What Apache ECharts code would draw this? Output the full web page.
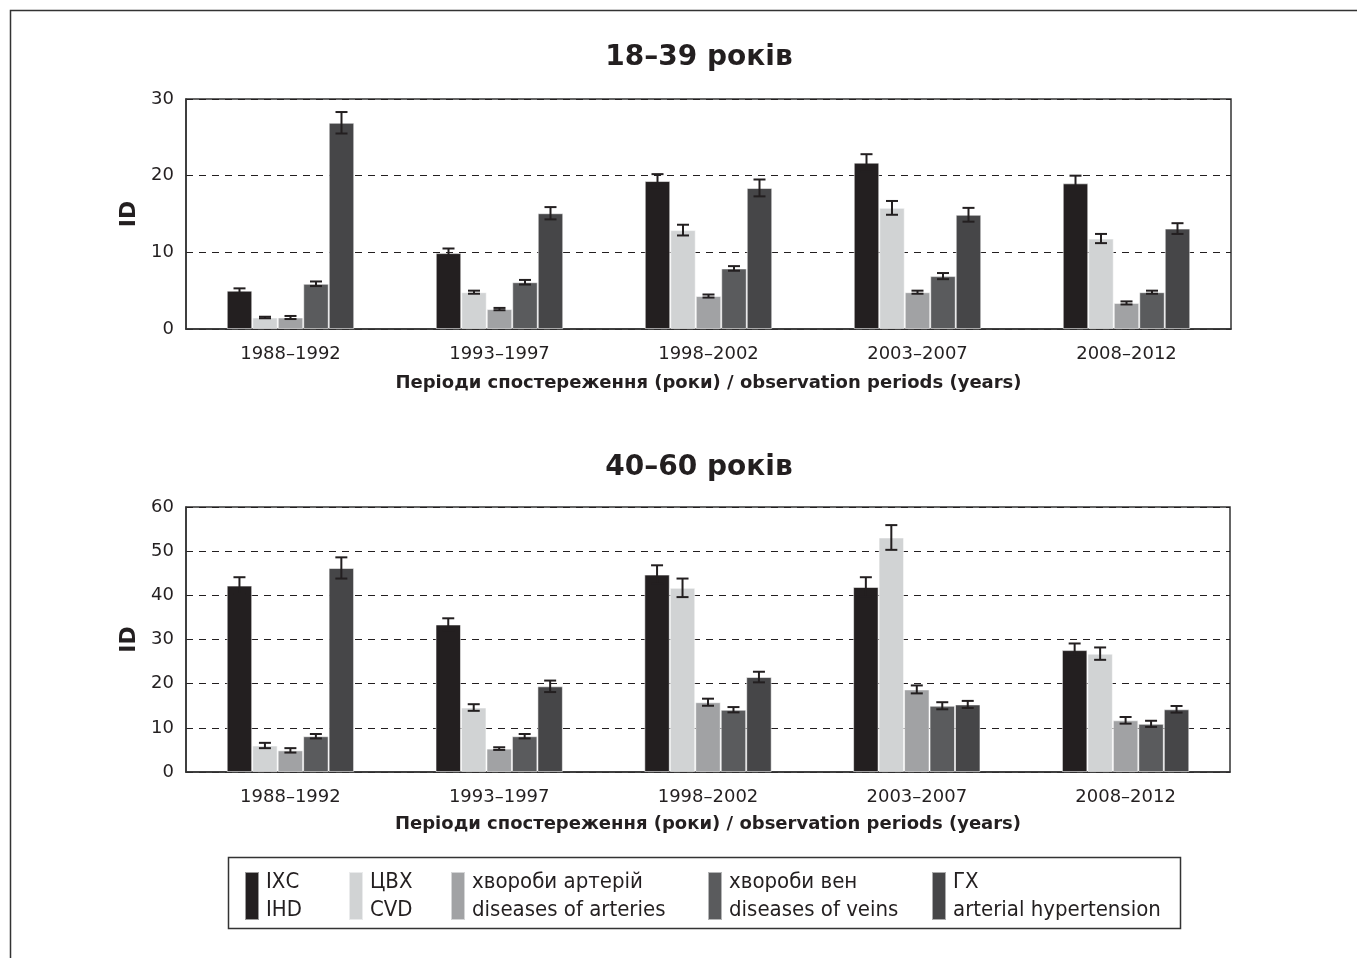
<!DOCTYPE html>
<html>
<head>
<meta charset="utf-8">
<script src="https://cdn.jsdelivr.net/npm/echarts@6/dist/echarts.min.js"></script>
<style>
html,body{margin:0;padding:0;background:#fff;}
#chart{width:1357px;height:958px;}
</style>
</head>
<body>
<div id="chart"></div>
<script>
// ---- data ----
const categories = ['1988–1992', '1993–1997', '1998–2002', '2003–2007', '2008–2012'];
const seriesKeys = ['ihd', 'cvd', 'art', 'vein', 'ah'];
const legendLabels = ['ІХС\nIHD', 'ЦВХ\nCVD', 'хвороби артерій\ndiseases of arteries', 'хвороби вен\ndiseases of veins', 'ГХ\narterial hypertension'];
const colors = ['#231f20', '#d1d3d4', '#a1a2a4', '#5a5b5d', '#464648'];

const titleTop = '18–39 років';
const titleBottom = '40–60 років';
const xName = 'Періоди спостереження (роки) / observation periods (years)';
const yName = 'ID';

// 18–39 years: values and error half-widths
const ihd18 = [5.0, 9.9, 19.3, 21.7, 19.0];
const ihd18Err = [0.3, 0.6, 0.9, 1.1, 1.0];
const cvd18 = [1.5, 4.8, 12.9, 15.8, 11.8];
const cvd18Err = [0.1, 0.2, 0.7, 0.9, 0.6];
const art18 = [1.5, 2.6, 4.3, 4.8, 3.4];
const art18Err = [0.2, 0.15, 0.2, 0.2, 0.2];
const vein18 = [5.9, 6.1, 7.9, 6.9, 4.8];
const vein18Err = [0.3, 0.3, 0.3, 0.4, 0.2];
const ah18 = [26.9, 15.1, 18.4, 14.9, 13.1];
const ah18Err = [1.4, 0.8, 1.1, 0.9, 0.7];

// 40–60 years
const ihd40 = [42.2, 33.4, 44.7, 41.9, 27.6];
const ihd40Err = [1.9, 1.4, 2.1, 2.2, 1.5];
const cvd40 = [6.0, 14.6, 41.7, 53.1, 26.8];
const cvd40Err = [0.6, 0.75, 2.1, 2.8, 1.4];
const art40 = [4.9, 5.3, 15.8, 18.7, 11.7];
const art40Err = [0.5, 0.3, 0.8, 0.9, 0.75];
const vein40 = [8.1, 8.1, 14.1, 15.0, 10.9];
const vein40Err = [0.5, 0.5, 0.6, 0.8, 0.7];
const ah40 = [46.2, 19.4, 21.5, 15.3, 14.2];
const ah40Err = [2.4, 1.3, 1.2, 0.8, 0.75];

const yTicksTop = [0, 10, 20, 30];
const yTicksBottom = [0, 10, 20, 30, 40, 50, 60];

// ---- chart ----
const top18 = [ihd18, cvd18, art18, vein18, ah18];
const top18Err = [ihd18Err, cvd18Err, art18Err, vein18Err, ah18Err];
const bot40 = [ihd40, cvd40, art40, vein40, ah40];
const bot40Err = [ihd40Err, cvd40Err, art40Err, vein40Err, ah40Err];

const CAT_GAP = 0.39;
const N = seriesKeys.length;

function errRender(sIdx) {
  return function (params, api) {
    const cat = api.value(0), v = api.value(1), e = api.value(2);
    const c = api.coord([cat, v]);
    const band = api.size([1, 0])[0];
    const bw = band * (1 - CAT_GAP) / N;
    const x = c[0] + (sIdx - (N - 1) / 2) * bw;
    const yT = api.coord([cat, v + e])[1];
    const yB = api.coord([cat, v - e])[1];
    const cap = 6;
    const st = { stroke: '#231f20', lineWidth: 2 };
    return {
      type: 'group',
      children: [
        { type: 'line', shape: { x1: x, y1: yT, x2: x, y2: yB }, style: st },
        { type: 'line', shape: { x1: x - cap, y1: yT, x2: x + cap, y2: yT }, style: st },
        { type: 'line', shape: { x1: x - cap, y1: yB, x2: x + cap, y2: yB }, style: st }
      ]
    };
  };
}

const tickFont = { fontFamily: 'DejaVu Sans', fontSize: 18, color: '#231f20' };
const nameFont = { fontFamily: 'DejaVu Sans', fontWeight: 'bold', fontSize: 18, color: '#231f20' };

function xAxisDef(gi) {
  return {
    type: 'category', gridIndex: gi, data: categories,
    axisTick: { show: false },
    axisLine: { lineStyle: { color: '#333', width: 1.5 } },
    axisLabel: Object.assign({ margin: 16 }, tickFont),
    name: xName, nameLocation: 'middle', nameGap: gi === 0 ? 45 : 43,
    nameTextStyle: nameFont
  };
}
function yAxisDef(gi, ticks) {
  return {
    type: 'value', gridIndex: gi, min: ticks[0], max: ticks[ticks.length - 1],
    interval: ticks[1] - ticks[0],
    axisLine: { show: true, lineStyle: { color: '#333', width: 1.5 } },
    axisTick: { show: false },
    axisLabel: Object.assign({ margin: 12 }, tickFont),
    splitLine: { show: true, lineStyle: { color: '#231f20', type: [7, 6], width: 1 } },
    name: yName, nameLocation: 'middle', nameGap: 42,
    nameTextStyle: Object.assign({}, nameFont, { fontSize: 22 })
  };
}

const series = [];
[[top18, top18Err, 0], [bot40, bot40Err, 1]].forEach(([vals, errs, gi]) => {
  vals.forEach((arr, si) => {
    series.push({
      name: seriesKeys[si], type: 'bar', xAxisIndex: gi, yAxisIndex: gi,
      data: arr, barGap: '0%', barCategoryGap: (CAT_GAP * 100) + '%',
      itemStyle: { color: colors[si], borderColor: 'rgba(255,255,255,0.55)', borderWidth: 1 },
      z: 2
    });
  });
  vals.forEach((arr, si) => {
    series.push({
      name: seriesKeys[si], type: 'custom', xAxisIndex: gi, yAxisIndex: gi,
      renderItem: errRender(si),
      data: arr.map((v, i) => [i, v, errs[si][i]]),
      z: 5
    });
  });
});

const legendLefts = [239, 343, 445, 702, 926];
const legends = seriesKeys.map((k, i) => ({
  data: [{ name: k, icon: 'rect' }],
  left: legendLefts[i], top: 863,
  itemWidth: 14, itemHeight: 48,
  formatter: () => legendLabels[i],
  textStyle: { fontFamily: 'DejaVu Sans Condensed, Liberation Sans Narrow, DejaVu Sans', fontSize: 22, lineHeight: 28, color: '#231f20', padding: [0, 0, 0, 2] },
  selectedMode: false
}));

const titleStyle = { fontFamily: 'DejaVu Sans', fontWeight: 'bold', fontSize: 28, color: '#231f20' };

const option = {
  backgroundColor: '#fff',
  animation: false,
  title: [
    { text: titleTop, left: 694, top: 39, textAlign: 'center', textStyle: titleStyle },
    { text: titleBottom, left: 694, top: 449, textAlign: 'center', textStyle: titleStyle }
  ],
  legend: legends,
  grid: [
    { left: 186, top: 99, width: 1045, height: 230, show: true, borderColor: '#333', borderWidth: 1.5, backgroundColor: 'transparent' },
    { left: 186, top: 507, width: 1044, height: 265, show: true, borderColor: '#333', borderWidth: 1.5, backgroundColor: 'transparent' }
  ],
  xAxis: [xAxisDef(0), xAxisDef(1)],
  yAxis: [yAxisDef(0, yTicksTop), yAxisDef(1, yTicksBottom)],
  series: series,
  graphic: [
    { type: 'rect', shape: { x: 10.5, y: 10.5, width: 1400, height: 1000 }, style: { fill: 'none', stroke: '#333', lineWidth: 1.5 }, silent: true, z: -1 },
    { type: 'rect', shape: { x: 228.5, y: 857.5, width: 952, height: 71 }, style: { fill: 'none', stroke: '#333', lineWidth: 1.5 }, silent: true }
  ]
};

const chart = echarts.init(document.getElementById('chart'), null, { renderer: 'canvas' });
chart.setOption(option);
</script>
</body>
</html>
